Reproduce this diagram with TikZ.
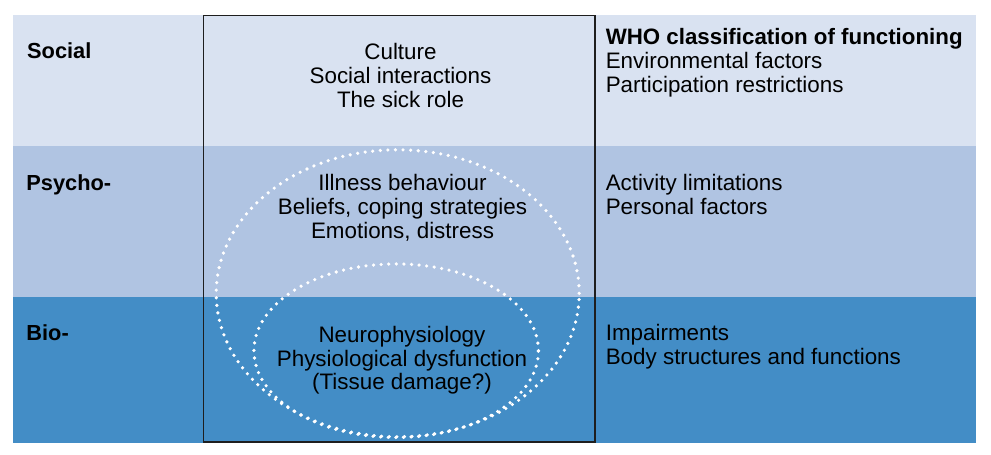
\documentclass[tikz,border=0pt]{standalone}
\usepackage{fontspec}
\setmainfont{Liberation Sans}
\usetikzlibrary{shapes.geometric}
\definecolor{socialbg}{RGB}{217,226,241}
\definecolor{psychobg}{RGB}{176,196,226}
\definecolor{biobg}{RGB}{67,141,198}
\definecolor{boxline}{RGB}{30,30,30}
\begin{document}
\begin{tikzpicture}[x=1pt,y=-1pt,
  band/.style={draw=none, inner sep=0pt, outer sep=0pt, anchor=north west, minimum width=963pt},
  corebox/.style={draw=boxline, line width=1.4pt, inner sep=0pt, outer sep=0pt, anchor=north west,
    minimum width=391.5pt, minimum height=426.5pt},
  dotring/.style={draw=white, line width=3.6pt, line cap=round, dash pattern=on 0pt off 7.6pt,
    ellipse, inner sep=0pt, outer sep=0pt},
  lbl/.style={font=\bfseries\fontsize{21.8}{24}\selectfont, inner sep=0pt, anchor=north west},
  hdr/.style={font=\bfseries\fontsize{22.3}{24}\selectfont, inner sep=0pt, anchor=north west},
  ctxt/.style={font=\fontsize{22.4}{23.8}\selectfont, inner sep=0pt, anchor=north, align=center},
  rtxt/.style={font=\fontsize{22.4}{24.2}\selectfont, inner sep=0pt, anchor=north west, align=left}]
\useasboundingbox (0,0) rectangle (991,455);
% bands
\node[band, fill=socialbg, minimum height=130.7pt] (social) at (13,15) {};
\node[band, fill=psychobg, minimum height=151pt] (psycho) at (13,145.7) {};
\node[band, fill=biobg, minimum height=146pt] (bio) at (13,296.7) {};
% dotted ellipses
\node[dotring, minimum width=363pt, minimum height=287pt] (outerring) at (397.7,293.3) {};
\node[dotring, minimum width=284.5pt, minimum height=173.5pt] (innerring) at (396.2,350.7) {};
% central box
\node[corebox] (core) at (203.5,15.5) {};
% left labels
\node[lbl] (lsocial) at (27,42.2) {Social};
\node[lbl] (lpsycho) at (26.2,174.4) {Psycho-};
\node[lbl] (lbio) at (26.2,324.4) {Bio-};
% central texts
\node[ctxt] (csocial) at (400.5,43.4) {Culture\\Social interactions\\The sick role};
\node[ctxt] (cpsycho) at (402.5,174.1) {Illness behaviour\\Beliefs, coping strategies\\Emotions, distress};
\node[ctxt] (cbio) at (402,325.8) {Neurophysiology\\Physiological dysfunction\\(Tissue damage?)};
% right texts
\node[hdr] (rhead) at (605.6,27.9) {WHO classification of functioning};
\node[rtxt] (rsocial) at (605.6,52.3) {Environmental factors\\Participation restrictions};
\node[rtxt] (rpsycho) at (605.6,174.1) {Activity limitations\\Personal factors};
\node[rtxt] (rbio) at (605.6,324.3) {Impairments\\Body structures and functions};
\end{tikzpicture}
\end{document}
